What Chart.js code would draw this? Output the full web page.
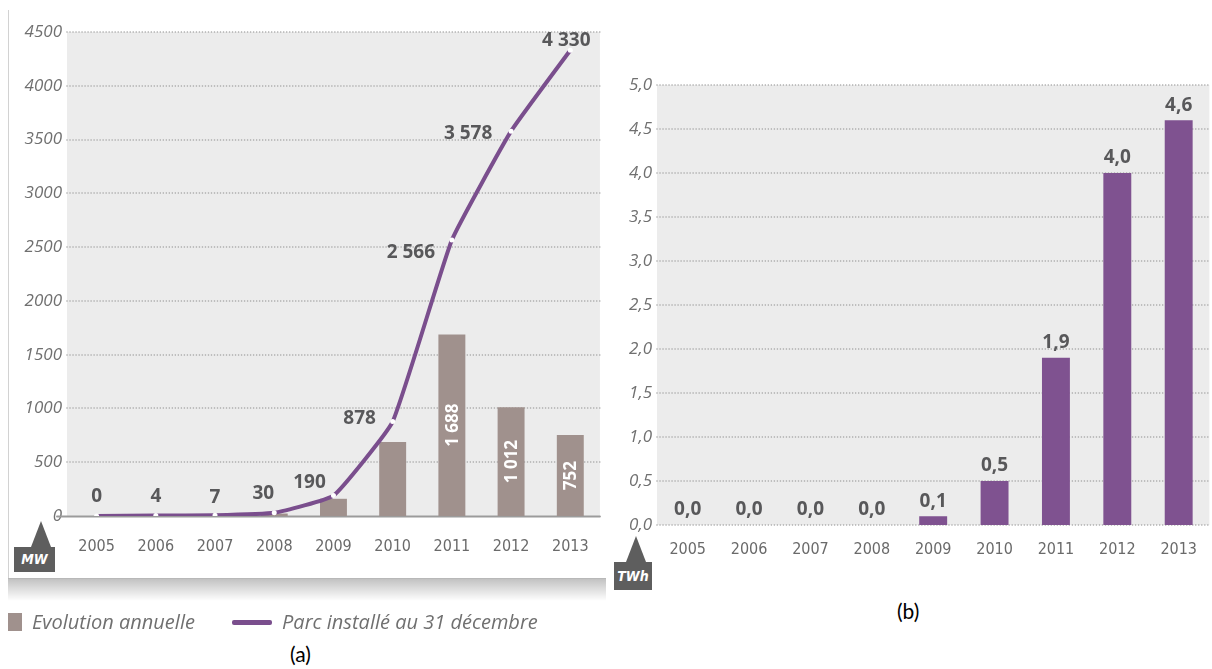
<!DOCTYPE html>
<html>
<head>
<meta charset="utf-8">
<script src="https://cdn.jsdelivr.net/npm/chart.js@4.4.1/dist/chart.umd.min.js"></script>
<style>
  body { margin: 0; width: 1212px; height: 669px; background: #fff; position: relative; overflow: hidden; }
  .wrap { position: absolute; top: 0; height: 590px; }
  #wrapA { left: 0; width: 610px; }
  #wrapB { left: 600px; width: 612px; }
  .frameL { position: absolute; left: 8px; top: 10px; width: 1px; height: 568px; background: #d2d2d2; }
  .frameB { position: absolute; left: 8px; top: 578px; width: 598px; height: 1px; background: #b8b8b8; }
  .shadow { position: absolute; left: 8px; top: 579px; width: 598px; height: 22px;
            background: linear-gradient(rgba(0,0,0,0.24), rgba(0,0,0,0)); }
  .badge { position: absolute; background: #5e5e5e; color: #fff; text-align: center;
           font: italic bold 14px 'Liberation Sans Narrow', 'DejaVu Sans Condensed', sans-serif; }
  .badge:before { content: ''; position: absolute; border-left: 10px solid transparent;
                  border-right: 10px solid transparent; border-bottom: 26px solid #5e5e5e; }
  #mw { left: 14px; top: 547px; width: 41px; height: 25px; line-height: 25px; }
  #mw:before { left: 17px; top: -26px; }
  #twh { left: 614px; top: 562px; width: 38px; height: 28px; line-height: 28px; }
  #twh:before { left: 12px; top: -26px; }
  .leg { position: absolute; font: italic 20px 'Open Sans', sans-serif; color: #707070; line-height: 26px; top: 609px; white-space: nowrap; }
  .sq { position: absolute; left: 8px; top: 613px; width: 14px; height: 18px; background: #a0918d; }
  .ln { position: absolute; left: 232px; top: 620px; width: 40px; height: 5px; border-radius: 2px; background: #7a4e8d; }
  .cap { position: absolute; font: 21px 'Lato', 'Open Sans', sans-serif; color: #000; line-height: 26px; }
</style>
</head>
<body>
<div class="frameL"></div>
<div class="frameB"></div>
<div class="shadow"></div>
<div class="wrap" id="wrapA"><canvas id="chartA"></canvas></div>
<div class="wrap" id="wrapB"><canvas id="chartB"></canvas></div>
<div class="badge" id="mw">MW</div>
<div class="badge" id="twh">TWh</div>
<div class="sq"></div>
<div class="leg" style="left:32px">Evolution annuelle</div>
<div class="ln"></div>
<div class="leg" style="left:282px">Parc installé au 31 décembre</div>
<div class="cap" style="left:290px;top:641px">(a)</div>
<div class="cap" style="left:897px;top:598px">(b)</div>

<script>
// --- data ---
var years = ['2005', '2006', '2007', '2008', '2009', '2010', '2011', '2012', '2013'];
var evolutionAnnuelle = [0, 4, 3, 23, 160, 688, 1688, 1012, 752];   // MW
var parcInstalle = [0, 4, 7, 30, 190, 878, 2566, 3578, 4330];       // MW
var production = [0.0, 0.0, 0.0, 0.0, 0.1, 0.5, 1.9, 4.0, 4.6];    // TWh
var yTickLabelsA = ['0', '500', '1000', '1500', '2000', '2500', '3000', '3500', '4000', '4500'];
var yTickLabelsB = ['0,0', '0,5', '1,0', '1,5', '2,0', '2,5', '3,0', '3,5', '4,0', '4,5', '5,0'];

// label placement next to the line points (dx, dy from the point)
var lineLabelOffsets = [[0, -19], [0, -19], [0, -18], [-11, -19], [-24, -13], [-33, -3], [-41, 13], [-43, 2], [-4, -10]];

function spaced(v) {
    return String(v).replace(/\B(?=(\d{3})+(?!\d))/g, ' ');
}

var tickFontY = { family: "'Open Sans', sans-serif", style: 'italic', size: 17 };
var tickFontX = { family: "'Liberation Sans Narrow', 'DejaVu Sans Condensed', sans-serif", size: 16 };

// gray plot background + dotted grid lines
var panelBg = {
    id: 'panelBg',
    beforeDatasetsDraw: function (chart, args, opts) {
        var ctx = chart.ctx, a = chart.chartArea, y = chart.scales.y;
        ctx.save();
        ctx.fillStyle = '#ececec';
        ctx.fillRect(a.left, a.top, a.right - a.left, a.bottom - a.top);
        ctx.strokeStyle = '#a6a6a6';
        ctx.lineWidth = 1.6;
        ctx.lineCap = 'round';
        ctx.setLineDash([0.01, 3]);
        y.ticks.forEach(function (t) {
            if (t.value === 0 && opts.solidBase) return;
            var py = Math.round(y.getPixelForValue(t.value));
            ctx.beginPath();
            ctx.moveTo(a.left, py);
            ctx.lineTo(a.right, py);
            ctx.stroke();
        });
        if (opts.solidBase) {
            ctx.setLineDash([]);
            ctx.strokeStyle = '#9b9b9b';
            ctx.lineWidth = 2;
            var p0 = Math.round(y.getPixelForValue(0)) + 0.5;
            ctx.beginPath();
            ctx.moveTo(a.left - 10, p0);
            ctx.lineTo(a.right, p0);
            ctx.stroke();
        }
        ctx.restore();
    }
};

var labelsA = {
    id: 'labelsA',
    afterDatasetsDraw: function (chart) {
        var ctx = chart.ctx;
        ctx.save();
        // line values
        var lineMeta = chart.getDatasetMeta(0);
        ctx.font = "bold 19px 'Open Sans', sans-serif";
        ctx.fillStyle = '#58585a';
        ctx.textAlign = 'center';
        ctx.textBaseline = 'middle';
        lineMeta.data.forEach(function (pt, i) {
            var o = lineLabelOffsets[i];
            ctx.fillText(spaced(parcInstalle[i]), pt.x + o[0], pt.y + o[1]);
        });
        // rotated values inside the tall bars
        var barMeta = chart.getDatasetMeta(1);
        ctx.font = "bold 17px 'Open Sans', sans-serif";
        ctx.fillStyle = '#ffffff';
        barMeta.data.forEach(function (bar, i) {
            if (evolutionAnnuelle[i] < 700) return;
            var cy = (bar.y + bar.base) / 2;
            ctx.save();
            ctx.translate(bar.x, cy);
            ctx.rotate(-Math.PI / 2);
            ctx.fillText(spaced(evolutionAnnuelle[i]), 0, 1);
            ctx.restore();
        });
        ctx.restore();
    }
};

var labelsB = {
    id: 'labelsB',
    afterDatasetsDraw: function (chart) {
        var ctx = chart.ctx;
        var meta = chart.getDatasetMeta(0);
        ctx.save();
        ctx.font = "bold 19px 'Open Sans', sans-serif";
        ctx.fillStyle = '#58585a';
        ctx.textAlign = 'center';
        ctx.textBaseline = 'middle';
        meta.data.forEach(function (bar, i) {
            ctx.fillText(production[i].toFixed(1).replace('.', ','), bar.x, bar.y - 15);
        });
        ctx.restore();
    }
};

new Chart(document.getElementById('chartA'), {
    data: {
        labels: years,
        datasets: [
            {
                type: 'line',
                label: 'Parc installé au 31 décembre',
                data: parcInstalle,
                borderColor: '#7a4e8d',
                borderWidth: 4,
                tension: 0.12,
                pointRadius: 2.5,
                pointBackgroundColor: '#ffffff',
                pointBorderWidth: 0,
                order: 0
            },
            {
                type: 'bar',
                label: 'Evolution annuelle',
                data: evolutionAnnuelle,
                backgroundColor: '#a0918d',
                barPercentage: 0.455,
                categoryPercentage: 1,
                order: 1
            }
        ]
    },
    options: {
        responsive: true,
        maintainAspectRatio: false,
        animation: false,
        layout: { padding: { left: 0, right: 7, top: 32, bottom: 0 } },
        plugins: { legend: { display: false }, tooltip: { enabled: false }, panelBg: { solidBase: true } },
        scales: {
            x: {
                offset: true,
                grid: { display: false, drawTicks: false },
                border: { display: false },
                ticks: { color: '#6a6a6a', font: tickFontX, padding: 21, maxRotation: 0 },
                afterFit: function (s) { s.height = 74; }
            },
            y: {
                min: 0,
                max: 4500,
                grid: { display: false, drawTicks: false },
                border: { display: false },
                ticks: {
                    stepSize: 500, color: '#707070', font: tickFontY, padding: 5,
                    callback: function (v, i) { return yTickLabelsA[i]; }
                },
                afterFit: function (s) { s.width = 67; }
            }
        }
    },
    plugins: [panelBg, labelsA]
});

new Chart(document.getElementById('chartB'), {
    type: 'bar',
    data: {
        labels: years,
        datasets: [
            {
                label: 'TWh',
                data: production,
                backgroundColor: '#7f5290',
                barPercentage: 0.455,
                categoryPercentage: 1
            }
        ]
    },
    options: {
        responsive: true,
        maintainAspectRatio: false,
        animation: false,
        layout: { padding: { left: 0, right: 0, top: 85, bottom: 0 } },
        plugins: { legend: { display: false }, tooltip: { enabled: false }, panelBg: { solidBase: false } },
        scales: {
            x: {
                grid: { display: false, drawTicks: false },
                border: { display: false },
                ticks: { color: '#6a6a6a', font: tickFontX, padding: 15, maxRotation: 0 },
                afterFit: function (s) { s.height = 65; }
            },
            y: {
                min: 0,
                max: 5,
                grid: { display: false, drawTicks: false },
                border: { display: false },
                ticks: {
                    stepSize: 0.5, color: '#707070', font: tickFontY, padding: 5,
                    callback: function (v, i) { return yTickLabelsB[i]; }
                },
                afterFit: function (s) { s.width = 57; }
            }
        }
    },
    plugins: [panelBg, labelsB]
});
</script>
</body>
</html>
